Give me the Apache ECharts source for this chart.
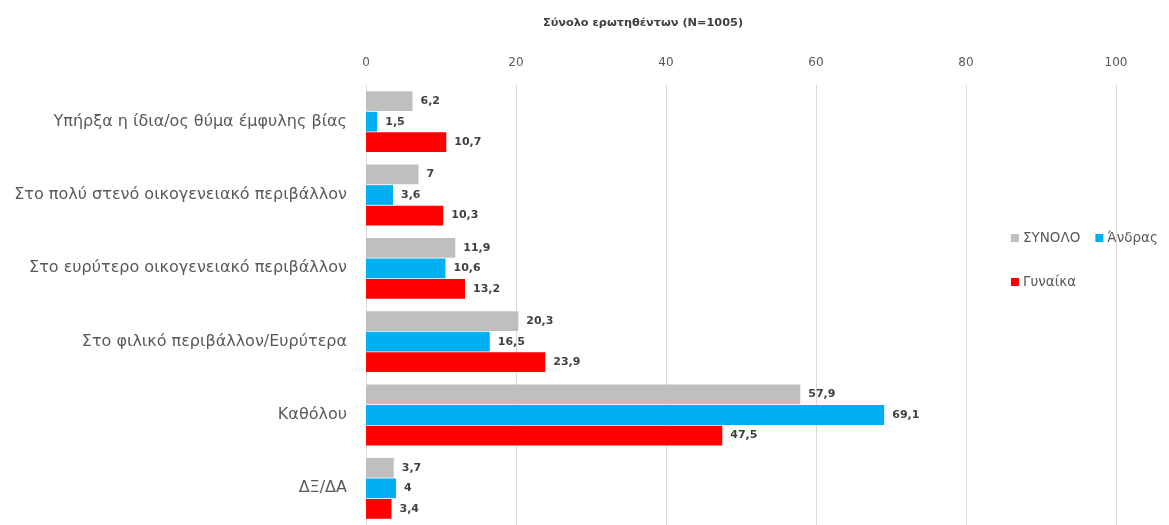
<!DOCTYPE html>
<html>
<head>
<meta charset="utf-8">
<script src="https://cdn.jsdelivr.net/npm/echarts@6/dist/echarts.min.js"></script>
<style>html,body{margin:0;padding:0;background:#fff}#c{width:1169px;height:525px}</style>
</head>
<body>
<div id="c"></div>
<script>
const categories = [
  'Υπήρξα η ίδια/ος θύμα έμφυλης βίας',
  'Στο πολύ στενό οικογενειακό περιβάλλον',
  'Στο ευρύτερο οικογενειακό περιβάλλον',
  'Στο φιλικό περιβάλλον/Ευρύτερα',
  'Καθόλου',
  'ΔΞ/ΔΑ'
];
const totalValues = [6.2, 7, 11.9, 20.3, 57.9, 3.7];
const menValues = [1.5, 3.6, 10.6, 16.5, 69.1, 4];
const womenValues = [10.7, 10.3, 13.2, 23.9, 47.5, 3.4];
const seriesNames = ['ΣΥΝΟΛΟ', 'Άνδρας', 'Γυναίκα'];
const xTicks = [0, 20, 40, 60, 80, 100];

const font = '"DejaVu Sans", Verdana, sans-serif';
const colors = ['#BFBFBF', '#00B0F0', '#FF0000'];
const fmt = v => String(v).replace('.', ',');

function mk(name, data, color) {
  return {
    name, type: 'bar', data,
    itemStyle: { color },
    barCategoryGap: '17%', barGap: '4%',
    label: {
      show: true, position: 'right', distance: 8,
      formatter: p => fmt(p.value),
      color: '#404040', fontWeight: 'bold', fontSize: 11, fontFamily: font
    }
  };
}

const chart = echarts.init(document.getElementById('c'));
chart.setOption({
  animation: false,
  title: {
    text: 'Σύνολο ερωτηθέντων (N=1005)',
    left: 638, top: 13, textAlign: 'center',
    textStyle: { fontSize: 11.3, fontWeight: 'bold', color: '#404040', fontFamily: font }
  },
  legend: [
    {
      data: ['ΣΥΝΟΛΟ', 'Άνδρας'], left: 1006, top: 226, itemWidth: 8, itemHeight: 8, itemGap: 15,
      icon: 'rect', textStyle: { fontSize: 13.5, color: '#595959', fontFamily: font, padding: [0, 0, 0, -1] }
    },
    {
      data: ['Γυναίκα'], left: 1006, top: 270, itemWidth: 8, itemHeight: 8,
      icon: 'rect', textStyle: { fontSize: 13.5, color: '#595959', fontFamily: font, padding: [0, 0, 0, -1] }
    }
  ],
  grid: { left: 366, right: 53, top: 85, height: 444, containLabel: false },
  xAxis: {
    type: 'value', position: 'top', min: 0, max: 100, interval: 20,
    axisLine: { show: false }, axisTick: { show: false },
    splitLine: { lineStyle: { color: '#D9D9D9', width: 1 } },
    axisLabel: { color: '#595959', fontSize: 12, fontFamily: font, margin: 16,
      formatter: v => xTicks.includes(v) ? String(v) : '' }
  },
  yAxis: {
    type: 'category', data: categories, inverse: true,
    axisLine: { show: true, lineStyle: { color: '#D9D9D9' } }, axisTick: { show: false },
    axisLabel: { color: '#595959', fontSize: 16, fontFamily: font, margin: 19 }
  },
  series: [
    mk(seriesNames[0], totalValues, colors[0]),
    mk(seriesNames[1], menValues, colors[1]),
    mk(seriesNames[2], womenValues, colors[2])
  ]
});
</script>
</body>
</html>
